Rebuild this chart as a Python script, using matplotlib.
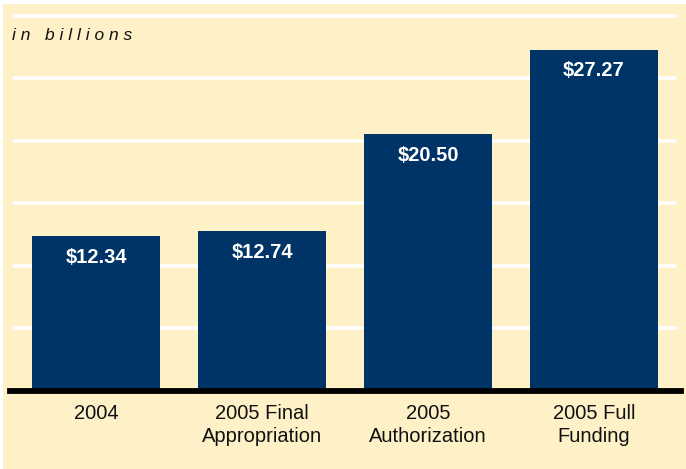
import matplotlib.pyplot as plt
from matplotlib.patches import Rectangle

# data
categories = ["2004", "2005 Final\nAppropriation", "2005\nAuthorization", "2005 Full\nFunding"]
values = [12.34, 12.74, 20.50, 27.27]
value_labels = ["$12.34", "$12.74", "$20.50", "$27.27"]
grid_levels = [5, 10, 15, 20, 25, 30]

cream = "#FFF1C7"
navy = "#003366"

plt.rcParams["font.family"] = ["Liberation Sans", "DejaVu Sans"]

W, H = 686, 469
fig = plt.figure(figsize=(W / 100, H / 100), dpi=100, facecolor="white")
# cream panel (thin white strip at top/left like the source)
fig.patches.append(Rectangle((2.7 / W, 0), 1, (H - 4) / H, transform=fig.transFigure,
                             facecolor=cream, edgecolor="none", zorder=-10))

ax = fig.add_axes([10 / W, (H - 390.5) / H, 671 / W, (390.5 - 15.7) / H])
ax.set_facecolor("none")

x = list(range(len(values)))
ax.set_xlim(-0.518, 3.524)
ax.set_ylim(0, 30)

# white gridlines
for g in grid_levels:
    ax.axhline(g, xmin=0.006, xmax=0.991, color="white", lw=2.6,
               solid_capstyle="round", zorder=1, clip_on=False)

ax.bar(x, values, width=0.77, color=navy, zorder=2)

# baseline
ax.axhline(0, color="black", lw=4.2, zorder=3, clip_on=False)

for xi, v, lab in zip(x, values, value_labels):
    ax.annotate(lab, (xi, v), xytext=(0, -15), textcoords="offset points",
                ha="center", va="center", color="white", fontsize=14.5,
                fontweight="bold", zorder=4)

ax.set_xticks(x)
ax.set_xticklabels(categories, fontsize=14.5, color="#111111", linespacing=1.28)
ax.tick_params(axis="x", length=0, pad=9.5)
ax.set_yticks([])
for s in ax.spines.values():
    s.set_visible(False)

ax.text(2.5 / 671, 0.946, "i n   b i l l i o n s", transform=ax.transAxes,
        fontsize=12.5, style="italic", color="#111111", ha="left", va="center")

fig.savefig("out.png", dpi=100, facecolor=fig.get_facecolor())
